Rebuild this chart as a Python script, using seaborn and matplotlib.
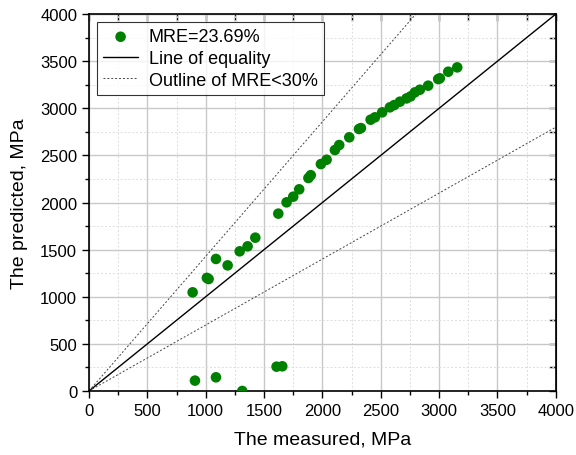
import matplotlib
matplotlib.use("Agg")
import matplotlib.pyplot as plt
import seaborn as sns
import pandas as pd
from matplotlib.ticker import MultipleLocator

# data
measured = [888, 1010, 1025, 1088, 1188, 1291, 1359, 1425, 1622, 1693, 1750, 1801,
            1880, 1900, 1987, 2036, 2107, 2144, 2230, 2313, 2330, 2413, 2450, 2512,
            2578, 2615, 2664, 2721, 2755, 2792, 2835, 2906, 2992, 3006, 3078, 3155,
            908, 1088, 1313, 1607, 1656]
predicted = [1047, 1200, 1188, 1401, 1333, 1482, 1535, 1627, 1882, 2002, 2062, 2140,
             2260, 2290, 2408, 2454, 2557, 2610, 2692, 2780, 2790, 2879, 2904, 2957,
             3010, 3034, 3070, 3105, 3126, 3169, 3197, 3240, 3310, 3318, 3388, 3434,
             110, 145, 0, 258, 262]
mre_label = "MRE=23.69%"
lim = [0, 4000]

df = pd.DataFrame({"measured": measured, "predicted": predicted})

sns.set_style("white")
plt.rcParams["font.family"] = ["Liberation Sans", "DejaVu Sans"]
plt.rcParams["text.color"] = "black"
plt.rcParams["axes.labelcolor"] = "black"
plt.rcParams["xtick.color"] = "black"
plt.rcParams["ytick.color"] = "black"

fig = plt.figure(figsize=(5.76, 4.56), dpi=100)
ax = fig.add_axes([0.1545, 0.1404, 0.8105, 0.8266])

ax.plot(lim, lim, color="black", lw=1.0, label="Line of equality", zorder=2)
ax.plot(lim, [v / 0.7 for v in lim], color="#444444", lw=0.7, ls=(0, (2, 2)),
        label="Outline of MRE<30%", zorder=2)
ax.plot(lim, [v * 0.7 for v in lim], color="#444444", lw=0.7, ls=(0, (2, 2)), zorder=2)
sns.scatterplot(data=df, x="measured", y="predicted", ax=ax, color="#008000",
                s=58, edgecolor="none", label=mre_label, zorder=3)

ax.set_xlim(lim)
ax.set_ylim(lim)
ax.xaxis.set_major_locator(MultipleLocator(500))
ax.yaxis.set_major_locator(MultipleLocator(500))
ax.xaxis.set_minor_locator(MultipleLocator(250))
ax.yaxis.set_minor_locator(MultipleLocator(250))
ax.grid(which="major", color="#c8c8c8", lw=1.0, zorder=0)
ax.grid(which="minor", color="#dddddd", lw=0.7, ls=(0, (2, 2)), zorder=0)
ax.set_axisbelow(True)

for sp in ax.spines.values():
    sp.set_color("black")
    sp.set_linewidth(1.2)
ax.tick_params(which="both", direction="out", left=True, bottom=True,
               labelsize=12, width=1.0, color="black")
ax.tick_params(which="major", length=5)
ax.tick_params(which="minor", length=3)

# inward ticks on top and right
sec_x = ax.secondary_xaxis("top")
sec_x.set_xticks(range(0, 4001, 250))
sec_x.tick_params(direction="in", length=5, labeltop=False, width=1.0)
sec_y = ax.secondary_yaxis("right")
sec_y.set_yticks(range(0, 4001, 250))
sec_y.tick_params(direction="in", length=5, labelright=False, width=1.0)

ax.set_xlabel("The measured, MPa", fontsize=14, labelpad=9)
ax.set_ylabel("The predicted, MPa", fontsize=14, labelpad=9)

h, l = ax.get_legend_handles_labels()
order = [l.index(mre_label), l.index("Line of equality"), l.index("Outline of MRE<30%")]
leg = ax.legend([h[i] for i in order], [l[i] for i in order], loc="upper left",
                fontsize=13, frameon=True, fancybox=False, borderaxespad=0.45,
                handlelength=1.9, handletextpad=0.6, labelspacing=0.25,
                borderpad=0.35, markerscale=1.0)
leg.get_frame().set_edgecolor("black")
leg.get_frame().set_linewidth(0.8)

fig.savefig("out.png", dpi=100)
